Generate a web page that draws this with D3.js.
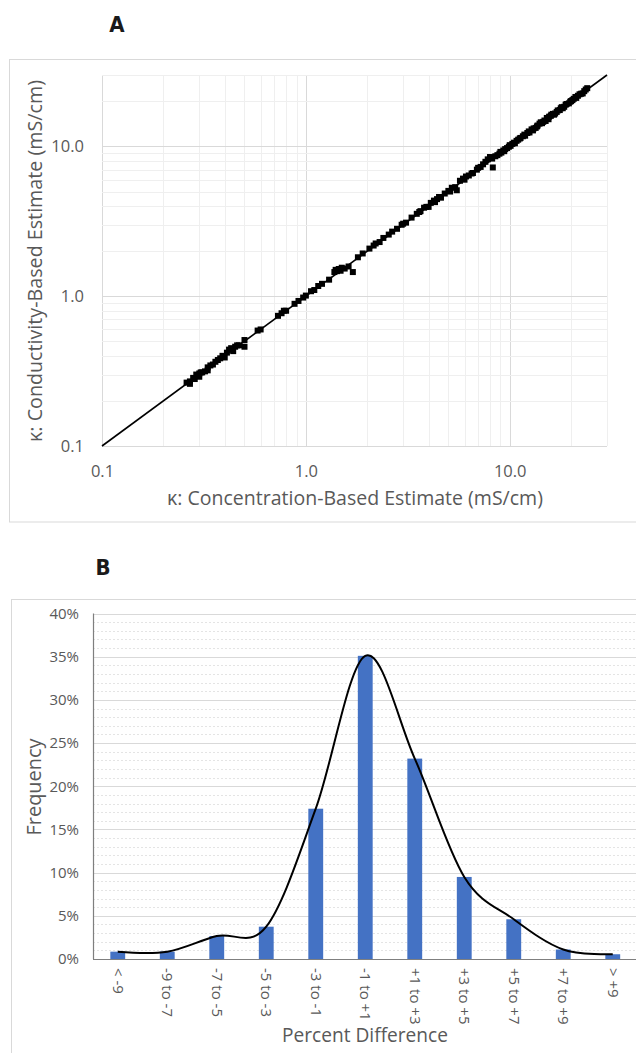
<!DOCTYPE html>
<html>
<head>
<meta charset="utf-8">
<script src="https://cdn.jsdelivr.net/npm/d3@7"></script>
<style>
  html, body { margin: 0; padding: 0; background: #fff; }
  svg { display: block; }
  text { font-family: "Open Sans", "Noto Sans", sans-serif; }
</style>
</head>
<body>
<svg id="chart" width="636" height="1053"></svg>
<script>
// ---------- Panel A data ----------
const concEstimate = [
  0.26,0.27,0.28,0.285,0.29,0.30,0.305,0.31,0.32,0.33,0.34,0.35,0.36,0.38,0.39,0.40,
  0.42,0.43,0.44,0.45,0.47,0.50,0.50,0.58,0.60,0.73,0.76,0.78,0.80,0.88,0.92,0.97,
  1.00,1.06,1.10,1.15,1.20,1.30,1.38,1.42,1.45,1.50,1.55,1.70,1.62,1.80,1.90,2.05,
  2.15,2.30,2.40,2.55,2.65,2.80,2.95,3.10,3.30,3.50,3.65,3.80,3.90,4.00,4.10,4.25,
  4.40,4.60,4.80,5.00,5.20,5.40,5.50,5.70,5.90,6.10,6.30,6.60,6.90,7.20,7.60,7.80,
  8.00,8.26,8.50,8.70,8.90,9.10,9.30,9.50,9.70,9.90,10.1,10.3,10.5,10.8,11.0,11.3,
  11.6,11.9,12.2,12.5,12.8,13.1,13.4,13.7,14.0,14.4,14.8,15.2,15.5,15.9,16.3,16.7,
  17.2,17.6,18.0,18.5,19.0,19.5,20.0,20.6,21.2,22.0,22.8,23.6,
  0.27,0.30,0.33,0.37,0.41,0.46,1.40,1.48,2.20,3.00,3.60,4.30,4.50,5.10,6.00,6.50,
  7.00,7.40,8.20,9.00,9.40,10.0,10.6,11.2,11.8,12.4,13.0,13.6,14.2,14.6,15.0,15.6,
  16.0,16.5,17.0,17.8,18.2,18.8,19.8,20.3,21.0,21.6,22.4,23.2,24.0
];
const condEstimate = [
  0.265,0.27,0.285,0.28,0.30,0.305,0.31,0.31,0.315,0.335,0.345,0.35,0.365,0.385,0.40,0.39,
  0.44,0.45,0.43,0.46,0.47,0.46,0.51,0.59,0.60,0.74,0.77,0.80,0.80,0.89,0.93,0.98,
  1.01,1.08,1.10,1.17,1.21,1.29,1.45,1.47,1.52,1.55,1.53,1.45,1.58,1.82,1.93,2.08,
  2.18,2.30,2.45,2.58,2.70,2.82,3.00,3.10,3.35,3.55,3.70,3.90,3.95,3.95,4.20,4.35,
  4.45,4.55,4.85,5.05,5.30,5.35,5.10,5.90,6.10,6.30,6.40,6.65,7.00,7.30,7.90,8.20,
  8.50,7.24,8.60,8.75,8.95,9.10,9.40,9.60,9.75,9.95,10.1,10.4,10.6,10.9,11.1,11.4,
  11.7,11.8,12.3,12.4,13.0,13.2,13.3,13.8,14.2,14.3,14.9,15.5,15.2,16.0,16.5,16.6,
  17.4,17.5,18.3,18.4,19.2,19.4,20.1,20.8,21.1,22.3,22.6,24.0,
  0.26,0.29,0.32,0.375,0.42,0.47,1.50,1.48,2.25,3.05,3.65,4.25,4.60,5.00,6.00,6.60,
  7.20,7.60,8.30,9.20,9.30,10.2,10.5,11.3,12.0,12.6,12.8,13.6,14.5,14.6,14.8,15.8,
  16.3,16.3,17.0,18.0,18.0,19.0,19.9,20.4,21.4,21.8,22.5,23.4,24.5
];
const identityLine = [0.1, 30];
const logTicksA = [0.1, 1, 10];

// ---------- Panel B data ----------
const categories = ["< -9","-9 to -7","-7 to -5","-5 to -3","-3 to -1","-1 to +1",
                    "+1 to +3","+3 to +5","+5 to +7","+7 to +9","> +9"];
const frequency = [0.85, 0.85, 2.66, 3.74, 17.4, 35.1, 23.2, 9.5, 4.6, 1.1, 0.55];
const percentTicks = [0, 5, 10, 15, 20, 25, 30, 35, 40];

const TEXT = "#595959";
const svg = d3.select("#chart");
svg.append("rect").attr("width", 636).attr("height", 1053).attr("fill", "#fff");

// fit a text element's font size so its rendered length matches a target width
function fitText(sel, target) {
  sel.each(function () {
    const fs = parseFloat(getComputedStyle(this).fontSize);
    const len = this.getComputedTextLength();
    if (len > 0) d3.select(this).style("font-size", (fs * target / len).toFixed(2) + "px");
  });
}

// ================= PANEL A =================
svg.append("rect").attr("x", 9.5).attr("y", 59.5).attr("width", 640).attr("height", 462.5)
  .attr("fill", "none").attr("stroke", "#d9d9d9");
svg.append("text").attr("x", 117).attr("y", 32).attr("text-anchor", "middle")
  .style("font-family", "'Liberation Sans Narrow','DejaVu Sans Condensed',sans-serif")
  .style("font-weight", "bold").style("font-size", "22px").attr("fill", "#1a1a1a").text("A");

const xA = d3.scaleLog().domain([0.1, 30]).range([102, 607]);
const yA = d3.scaleLog().domain([0.1, 30]).range([446, 75]);

const gridVals = [];
[-1, 0, 1].forEach(n => { for (let k = 1; k <= 9; k++) { const v = +(k * Math.pow(10, n)).toPrecision(3); if (v <= 30) gridVals.push({v, major: k === 1}); } });

const gA = svg.append("g");
const ordered = gridVals.filter(d => !d.major).concat(gridVals.filter(d => d.major));
gA.selectAll(".vg").data(ordered).join("line")
  .attr("x1", d => Math.round(xA(d.v)) + 0.5).attr("x2", d => Math.round(xA(d.v)) + 0.5)
  .attr("y1", yA(30)).attr("y2", yA(0.1))
  .attr("stroke", d => d.major ? "#d9d9d9" : "#efefef").attr("stroke-width", 1);
gA.selectAll(".hg").data(ordered).join("line")
  .attr("y1", d => Math.round(yA(d.v)) + 0.5).attr("y2", d => Math.round(yA(d.v)) + 0.5)
  .attr("x1", xA(0.1)).attr("x2", xA(30))
  .attr("stroke", d => d.major ? "#d9d9d9" : "#efefef").attr("stroke-width", 1);

// axes A
const axA_left = svg.append("g").attr("transform", `translate(${xA(0.1)},0)`)
  .call(d3.axisLeft(yA).tickValues(logTicksA).tickFormat(d3.format(".1f")).tickSize(0).tickPadding(18));
const axA_bottom = svg.append("g").attr("transform", `translate(0,${yA(0.1)})`)
  .call(d3.axisBottom(xA).tickValues(logTicksA).tickFormat(d3.format(".1f")).tickSize(0).tickPadding(19));
[axA_left, axA_bottom].forEach(a => {
  a.select(".domain").remove();
  a.selectAll("text").attr("fill", TEXT).style("font-size", "16.5px").style("font-family", "'Open Sans',sans-serif");
});

// scatter points
const pts = concEstimate.map((c, i) => ({c, k: condEstimate[i]}));
svg.append("g").selectAll("rect").data(pts).join("rect")
  .attr("x", d => xA(d.c) - 3).attr("y", d => yA(d.k) - 3)
  .attr("width", 6).attr("height", 6).attr("fill", "#000");

// identity line
svg.append("path").datum(identityLine)
  .attr("d", d3.line().x(d => xA(d)).y(d => yA(d)))
  .attr("stroke", "#000").attr("stroke-width", 1.6).attr("fill", "none");

// axis titles A
const tAx = svg.append("text").attr("x", 355).attr("y", 505).attr("text-anchor", "middle")
  .attr("fill", TEXT).style("font-size", "17px").text("κ: Concentration-Based Estimate (mS/cm)");
fitText(tAx, 376);
const tAy = svg.append("text").attr("transform", "translate(42,261) rotate(-90)").attr("text-anchor", "middle")
  .attr("fill", TEXT).style("font-size", "17px").text("κ: Conductivity-Based Estimate (mS/cm)");
fitText(tAy, 362);

// ================= PANEL B =================
svg.append("rect").attr("x", 11.5).attr("y", 599.5).attr("width", 640).attr("height", 480)
  .attr("fill", "none").attr("stroke", "#d9d9d9");
svg.append("text").attr("x", 103).attr("y", 575).attr("text-anchor", "middle")
  .style("font-family", "'Liberation Sans Narrow','DejaVu Sans Condensed',sans-serif")
  .style("font-weight", "bold").style("font-size", "22px").attr("fill", "#1a1a1a").text("B");

const xB = d3.scaleBand().domain(categories).range([93, 637.5]).paddingInner(0.7).paddingOuter(0.35);
const yB = d3.scaleLinear().domain([0, 40]).range([959, 613.5]);

const minorB = d3.range(0, 41).filter(v => v % 5 !== 0);
svg.append("g").selectAll("line").data(minorB).join("line")
  .attr("x1", 93).attr("x2", 640)
  .attr("y1", d => Math.round(yB(d)) + 0.5).attr("y2", d => Math.round(yB(d)) + 0.5)
  .attr("stroke", "#e4e4e4").attr("stroke-dasharray", "2,2");
svg.append("g").selectAll("line").data(percentTicks.filter(v => v > 0)).join("line")
  .attr("x1", 93).attr("x2", 640)
  .attr("y1", d => Math.round(yB(d)) + 0.5).attr("y2", d => Math.round(yB(d)) + 0.5)
  .attr("stroke", "#d9d9d9").attr("stroke-width", 1.2);

// bars
svg.append("g").selectAll("rect").data(categories).join("rect")
  .attr("x", d => xB(d)).attr("width", xB.bandwidth())
  .attr("y", (d, i) => yB(frequency[i])).attr("height", (d, i) => yB(0) - yB(frequency[i]))
  .attr("fill", "#4472C4");

// axis lines
svg.append("line").attr("x1", 93.5).attr("x2", 93.5).attr("y1", yB(40)).attr("y2", yB(0))
  .attr("stroke", "#7f7f7f").attr("stroke-width", 1.2);
svg.append("line").attr("x1", 93).attr("x2", 640).attr("y1", yB(0) + 0.5).attr("y2", yB(0) + 0.5)
  .attr("stroke", "#7f7f7f").attr("stroke-width", 1.2);

// smooth curve
svg.append("path").datum(frequency)
  .attr("d", d3.line().x((d, i) => xB(categories[i]) + xB.bandwidth() / 2).y(d => yB(d))
    .curve(d3.curveCardinal.tension(0)))
  .attr("stroke", "#000").attr("stroke-width", 2).attr("fill", "none");

// axes B
const axB_left = svg.append("g").attr("transform", "translate(93,0)")
  .call(d3.axisLeft(yB).tickValues(percentTicks).tickFormat(d => d + "%").tickSize(0).tickPadding(14));
axB_left.select(".domain").remove();
axB_left.selectAll("text").attr("fill", TEXT).style("font-size", "15px");

const axB_bottom = svg.append("g").attr("transform", `translate(0,${yB(0)})`)
  .call(d3.axisBottom(xB).tickSize(0));
axB_bottom.select(".domain").remove();
axB_bottom.selectAll("text").attr("fill", TEXT).style("font-size", "15px")
  .attr("transform", "rotate(90)").attr("x", 9).attr("y", 0).attr("dy", "0.35em")
  .style("text-anchor", "start");

const tBx = svg.append("text").attr("x", 365).attr("y", 1042).attr("text-anchor", "middle")
  .attr("fill", TEXT).style("font-size", "19px").text("Percent Difference");
fitText(tBx, 166);
const tBy = svg.append("text").attr("transform", "translate(41,787) rotate(-90)").attr("text-anchor", "middle")
  .attr("fill", TEXT).style("font-size", "20px").text("Frequency");
fitText(tBy, 97);
</script>
</body>
</html>
